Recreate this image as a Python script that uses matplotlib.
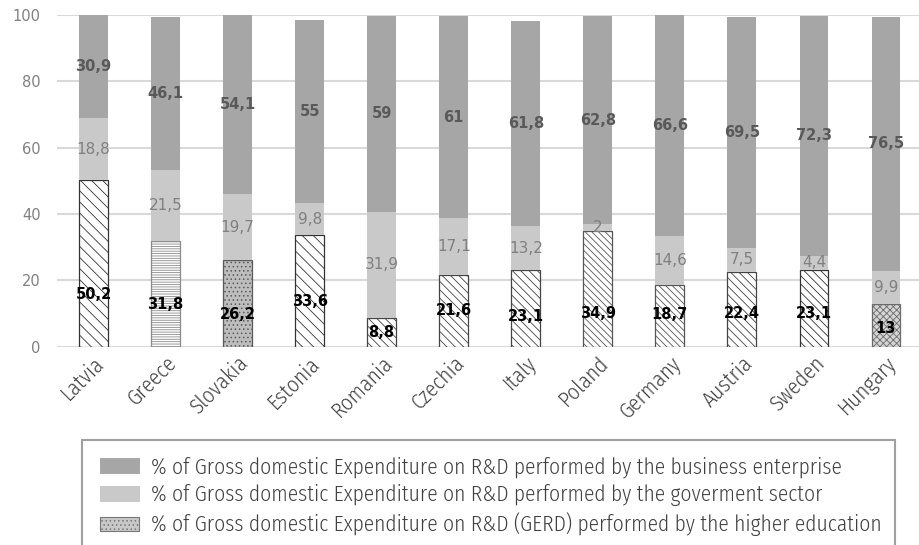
import matplotlib
matplotlib.use("Agg")
import matplotlib.pyplot as plt
from matplotlib import font_manager
from matplotlib.patches import Rectangle, Patch

countries = ["Latvia", "Greece", "Slovakia", "Estonia", "Romania", "Czechia",
             "Italy", "Poland", "Germany", "Austria", "Sweden", "Hungary"]
higher_edu = [50.2, 31.8, 26.2, 33.6, 8.8, 21.6, 23.1, 34.9, 18.7, 22.4, 23.1, 13]
government = [18.8, 21.5, 19.7, 9.8, 31.9, 17.1, 13.2, 2, 14.6, 7.5, 4.4, 9.9]
business = [30.9, 46.1, 54.1, 55, 59, 61, 61.8, 62.8, 66.6, 69.5, 72.3, 76.5]
y_ticks = [0, 20, 40, 60, 80, 100]

legend_labels = [
    "% of Gross domestic Expenditure on R&D performed by the business enterprise",
    "% of Gross domestic Expenditure on R&D performed by the goverment sector",
    "% of Gross domestic Expenditure on R&D (GERD) performed by the higher education",
]

# label heights for the higher-education values inside their bars
edu_label_y = [15.6, 12.6, 9.6, 13.5, 4.4, 11.0, 9.0, 10.1, 9.6, 10.1, 10.1, 5.6]

# fill style of each higher-education bar: (facecolor, hatch, hatch/edge colour)
edu_styles = [
    ("white", "\\\\\\", "#333333"),
    ("white", "-------", "#8a8a8a"),
    ("#bdbdbd", "....", "#5a5a5a"),
    ("white", "\\\\\\", "#333333"),
    ("white", "\\\\\\\\", "#444444"),
    ("white", "\\\\\\\\", "#444444"),
    ("white", "\\\\\\\\", "#444444"),
    ("white", "\\\\\\\\\\", "#555555"),
    ("white", "\\\\\\\\\\", "#555555"),
    ("white", "\\\\\\\\", "#444444"),
    ("white", "\\\\\\\\", "#333333"),
    ("#d4d4d4", "xxxxx", "#6a6a6a"),
]

# pick a light condensed face for the category names and the legend
available = {(f.name, f.weight) for f in font_manager.fontManager.ttflist}
narrow, narrow_weight = "DejaVu Sans", 400
for name, wt in [("Fira Sans Condensed", 300), ("Roboto Condensed", 300),
                 ("Roboto Condensed", 400), ("PT Sans Narrow", 400)]:
    if (name, wt) in available:
        narrow, narrow_weight = name, wt
        break

c_business = "#a6a6a6"
c_gov = "#c9c9c9"

plt.rcParams["hatch.linewidth"] = 0.6

fig = plt.figure(figsize=(9.2, 5.45), dpi=100)
ax = fig.add_axes([57.5 / 920, 0.3638, 864.5 / 920, 0.6086])

x = list(range(len(countries)))
w = 0.40
gov_bottom = higher_edu
bus_bottom = [a + b for a, b in zip(higher_edu, government)]

for i in x:
    fc, h, ec = edu_styles[i]
    ax.bar(i, higher_edu[i], w, color=fc, hatch=h, edgecolor=ec,
           linewidth=0.9, zorder=3)
ax.bar(x, government, w, bottom=gov_bottom, color=c_gov, zorder=3)
ax.bar(x, business, w, bottom=bus_bottom, color=c_business, zorder=3)


def fmt(v):
    return f"{v:g}".replace(".", ",")


for i in x:
    ax.text(i, bus_bottom[i] + business[i] / 2, fmt(business[i]),
            ha="center", va="center", fontsize=10.5, fontweight="bold",
            color="#595959", zorder=5)
    ax.text(i, gov_bottom[i] + government[i] / 2, fmt(government[i]),
            ha="center", va="center", fontsize=11, color="#808080", zorder=5)
    ax.text(i, edu_label_y[i], fmt(higher_edu[i]),
            ha="center", va="center", fontsize=10.5, fontweight="bold",
            color="black", zorder=5)

ax.set_xlim(-0.5, len(countries) - 0.5)
ax.set_ylim(0, 100)
ax.set_yticks(y_ticks)
ax.yaxis.grid(True, color="#d9d9d9", linewidth=1.5, zorder=0)
ax.set_axisbelow(True)
for s in ax.spines.values():
    s.set_visible(False)
ax.tick_params(axis="y", length=0, labelsize=10.5, labelcolor="#808080", pad=12)
ax.tick_params(axis="x", length=0, pad=4)
ax.set_xticks(x)
ax.set_xticklabels(countries, rotation=45, ha="right", rotation_mode="anchor",
                   fontsize=15.5, color="#404040", family=narrow,
                   fontweight=narrow_weight)

# legend with its frame running off the bottom edge
fig.patches.append(Rectangle((82 / 920, -0.05), (895 - 82) / 920,
                             0.05 + (545 - 440) / 545,
                             transform=fig.transFigure, fill=False,
                             edgecolor="#a0a0a0", linewidth=1.5))
handles = [
    Patch(facecolor=c_business, edgecolor="#999999", linewidth=0.5),
    Patch(facecolor=c_gov, edgecolor="#bbbbbb", linewidth=0.5),
    Patch(facecolor="#c8c8c8", hatch="....", edgecolor="#777777", linewidth=0.8),
]
fig.legend(handles, legend_labels, loc="upper left",
           bbox_to_anchor=(100 / 920, 1 - 456 / 545), frameon=False,
           prop={"family": narrow, "size": 15.5, "weight": narrow_weight},
           labelcolor="#404040",
           handlelength=1.8, handleheight=0.65, handletextpad=0.55,
           labelspacing=0.3, borderpad=0, borderaxespad=0)

fig.savefig("out.png", dpi=100)
